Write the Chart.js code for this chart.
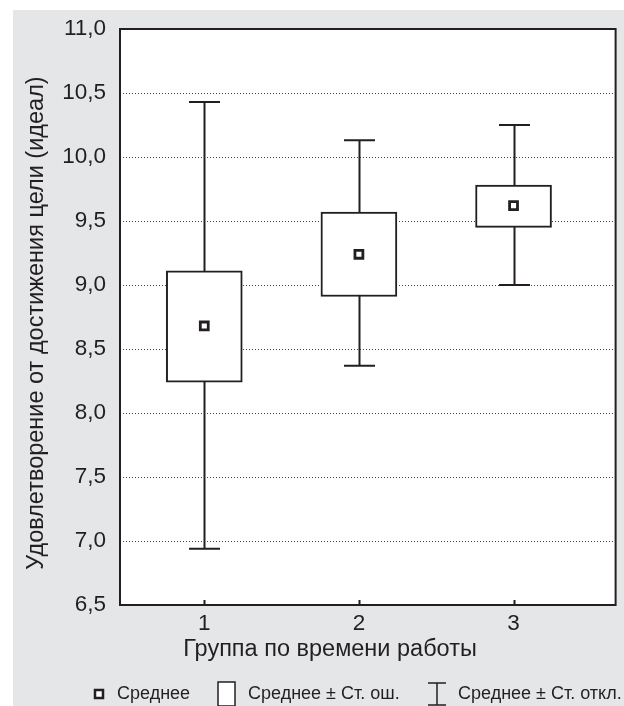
<!DOCTYPE html>
<html>
<head>
<meta charset="utf-8">
<script src="https://cdn.jsdelivr.net/npm/chart.js@4.4.1/dist/chart.umd.min.js"></script>
<style>
  html, body { margin: 0; padding: 0; background: #fff; overflow: hidden; }
  #wrap { position: relative; width: 624px; height: 706px; }
  #boxChart { display: block; }
</style>
</head>
<body>
<div id="wrap"><canvas id="boxChart"></canvas></div>
<script>
// groups by time of work
const groups = [1, 2, 3];
const means = [8.68, 9.24, 9.62];
const seLow = [8.24, 8.91, 9.45];
const seHigh = [9.11, 9.57, 9.78];
const sdLow = [6.94, 8.37, 9.00];
const sdHigh = [10.43, 10.13, 10.25];
const yTicks = [6.5, 7.0, 7.5, 8.0, 8.5, 9.0, 9.5, 10.0, 10.5, 11.0];
const xTitle = 'Группа по времени работы';
const yTitle = 'Удовлетворение от достижения цели (идеал)';
const legendLabels = ['Среднее', 'Среднее ± Ст. ош.', 'Среднее ± Ст. откл.'];

const ink = '#231f20';
const panelGray = '#e5e6e7';
const fontFamily = "'Liberation Sans', Arial, Helvetica, sans-serif";

const bgPlugin = {
    id: 'bgPlugin',
    beforeDraw(chart) {
        const ctx = chart.ctx;
        ctx.save();
        ctx.fillStyle = '#fff';
        ctx.fillRect(0, 0, chart.width, chart.height);
        ctx.fillStyle = panelGray;
        ctx.fillRect(13, 10, chart.width - 13, chart.height - 10);
        const a = chart.chartArea;
        ctx.fillStyle = '#fff';
        ctx.fillRect(a.left, a.top, a.right - a.left, a.bottom - a.top);
        ctx.restore();
    }
};

// whiskers (mean ± SD) go under the boxes
const whiskerPlugin = {
    id: 'whiskerPlugin',
    beforeDatasetsDraw(chart) {
        const ctx = chart.ctx;
        const x = chart.scales.x;
        const y = chart.scales.y;
        ctx.save();
        ctx.strokeStyle = ink;
        ctx.lineWidth = 2;
        groups.forEach((g, i) => {
            const px = Math.round(x.getPixelForValue(g)) + 0.5;
            const top = y.getPixelForValue(sdHigh[i]);
            const bot = y.getPixelForValue(sdLow[i]);
            ctx.beginPath();
            ctx.moveTo(px, top);
            ctx.lineTo(px, bot);
            ctx.moveTo(px - 15.5, top);
            ctx.lineTo(px + 15.5, top);
            ctx.moveTo(px - 15.5, bot);
            ctx.lineTo(px + 15.5, bot);
            ctx.stroke();
        });
        ctx.restore();
    }
};

// plot frame, inner ticks on x, axis titles and the legend row
const framePlugin = {
    id: 'framePlugin',
    afterDraw(chart) {
        const ctx = chart.ctx;
        const a = chart.chartArea;
        const x = chart.scales.x;
        ctx.save();
        ctx.strokeStyle = ink;
        ctx.lineWidth = 2;
        ctx.strokeRect(a.left, a.top, a.right - a.left, a.bottom - a.top);
        ctx.beginPath();
        groups.forEach(g => {
            const px = Math.round(x.getPixelForValue(g)) + 0.5;
            ctx.moveTo(px, a.bottom);
            ctx.lineTo(px, a.bottom - 5);
        });
        ctx.stroke();

        ctx.fillStyle = ink;
        ctx.textBaseline = 'middle';
        ctx.textAlign = 'center';
        ctx.font = '23.5px ' + fontFamily;
        ctx.fillText(xTitle, 330, 650);
        ctx.save();
        ctx.translate(37, (a.top + a.bottom) / 2 + 6);
        ctx.rotate(-Math.PI / 2);
        ctx.fillText(yTitle, 0, 0);
        ctx.restore();

        const cy = 694;
        ctx.font = '18px ' + fontFamily;
        ctx.textAlign = 'left';

        // mean marker
        ctx.lineWidth = 2.5;
        ctx.fillStyle = '#fff';
        ctx.fillRect(95, cy - 4, 8, 8);
        ctx.strokeRect(95, cy - 4, 8, 8);
        ctx.fillStyle = ink;
        ctx.fillText(legendLabels[0], 117, cy);

        // SE box
        ctx.lineWidth = 1.5;
        ctx.fillStyle = '#fff';
        ctx.fillRect(218, cy - 12, 17, 24);
        ctx.strokeRect(218, cy - 12, 17, 24);
        ctx.fillStyle = ink;
        ctx.fillText(legendLabels[1], 248, cy);

        // SD whisker
        ctx.beginPath();
        ctx.moveTo(428, cy - 11);
        ctx.lineTo(446, cy - 11);
        ctx.moveTo(437, cy - 11);
        ctx.lineTo(437, cy + 11);
        ctx.moveTo(428, cy + 11);
        ctx.lineTo(446, cy + 11);
        ctx.stroke();
        ctx.fillText(legendLabels[2], 458, cy);
        ctx.restore();
    }
};

const ctx = document.getElementById('boxChart').getContext('2d');
new Chart(ctx, {
    type: 'bar',
    data: {
        datasets: [{
            type: 'scatter',
            label: legendLabels[0],
            data: groups.map((g, i) => ({ x: g, y: means[i] })),
            pointStyle: 'rect',
            pointRadius: 5.6,
            pointBorderWidth: 2.8,
            pointBackgroundColor: '#fff',
            pointBorderColor: ink,
            showLine: false,
            order: 0
        }, {
            type: 'bar',
            label: legendLabels[1],
            data: groups.map((g, i) => ({ x: g, y: [seLow[i], seHigh[i]] })),
            backgroundColor: '#fff',
            borderColor: ink,
            borderWidth: 2,
            borderSkipped: false,
            barThickness: 76,
            order: 1
        }]
    },
    options: {
        responsive: true,
        maintainAspectRatio: false,
        animation: false,
        layout: {
            padding: { top: 29, right: 4, left: 13, bottom: 0 }
        },
        scales: {
            x: {
                type: 'linear',
                offset: false,
                min: 0.455,
                max: 3.66,
                afterBuildTicks: scale => {
                    scale.ticks = groups.map(v => ({ value: v }));
                },
                afterFit: scale => { scale.height = 101; },
                grid: { display: false, drawTicks: false, offset: false },
                border: { display: false },
                ticks: {
                    padding: 5,
                    color: ink,
                    font: { family: fontFamily, size: 22.5 },
                    callback: v => String(v)
                }
            },
            y: {
                min: 6.5,
                max: 11,
                afterBuildTicks: scale => {
                    scale.ticks = yTicks.map(v => ({ value: v }));
                },
                afterFit: scale => { scale.width = 107; },
                grid: {
                    drawTicks: false,
                    color: '#444',
                    lineWidth: 1
                },
                border: { display: false, dash: [1, 2] },
                ticks: {
                    padding: 14,
                    color: ink,
                    font: { family: fontFamily, size: 22.5 },
                    callback: v => Number(v).toFixed(1).replace('.', ',')
                }
            }
        },
        plugins: {
            legend: { display: false },
            tooltip: { enabled: false }
        }
    },
    plugins: [bgPlugin, whiskerPlugin, framePlugin]
});
</script>
</body>
</html>
